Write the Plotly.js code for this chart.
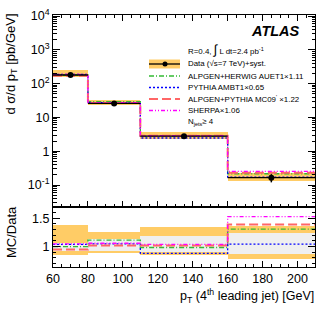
<!DOCTYPE html>
<html>
<head>
<meta charset="utf-8">
<script src="https://cdn.plot.ly/plotly-3.0.1.min.js"></script>
<style>html,body{margin:0;padding:0;background:#fff;}#chart{width:332px;height:319px;}</style>
</head>
<body>
<div id="chart"></div>
<script>
// ---- data ----
const binEdges = [60, 80, 110, 160, 210];
const dataXsec = [180, 26, 2.8, 0.165];          // pb/GeV
const dataStat = [3, 0.6, 0.12, 0.045];
const systLo = [0.86, 0.89, 0.845, 0.78];         // relative (MC/Data panel orange band)
const systHi = [1.39, 1.265, 1.35, 1.36];
const innerLo = [0.92, 0.92, 0.91, 0.865];        // light grey inner band
const innerHi = [1.07, 1.14, 1.18, 1.235];
const ratioHerwig = [1.00, 1.115, 0.985, 1.31];   // ALPGEN+HERWIG AUET1 x1.11
const ratioPythia = [1.04, 1.05, 0.88, 1.045];    // PYTHIA AMBT1 x0.65
const ratioAlpPy = [0.95, 1.02, 1.02, 1.39];      // ALPGEN+PYTHIA MC09' x1.22
const ratioSherpa = [1.05, 1.06, 1.04, 1.53];     // SHERPA x1.06
const xTicks = [60, 80, 100, 120, 140, 160, 180, 200];
const logTickVals = [0.1, 1, 10, 100, 1000, 10000];
const logTickText = ['10<sup>-1</sup>', '1', '10', '10<sup>2</sup>', '10<sup>3</sup>', '10<sup>4</sup>'];

const FONT = 'Liberation Sans, Arial, sans-serif';
const ORANGE = '#ffcc66';
const GREY = '#efefef';
const styles = [
  {r: ratioHerwig, color: '#33bb33', dash: '5px,2px,1px,2px', width: 1.4},
  {r: ratioPythia, color: '#0000ff', dash: '2px,2px', width: 1.3},
  {r: ratioAlpPy, color: '#ff6666', dash: '9px,4px', width: 2},
  {r: ratioSherpa, color: '#ff00ff', dash: '4px,2px,1px,2px,1px,2px', width: 1.3}
];

const centers = [], widths = [];
for (let i = 0; i < dataXsec.length; i++) {
  centers.push((binEdges[i] + binEdges[i + 1]) / 2);
  widths.push(binEdges[i + 1] - binEdges[i]);
}
function stepY(vals) { return vals.concat([vals[vals.length - 1]]); }

const traces = [];
// ---- top panel ----
traces.push({type: 'bar', x: centers, width: widths,
  base: dataXsec.map((v, i) => v * systLo[i]),
  y: dataXsec.map((v, i) => v * (systHi[i] - systLo[i])),
  marker: {color: ORANGE, line: {width: 0}}, xaxis: 'x2', yaxis: 'y2', hoverinfo: 'skip'});
styles.forEach(s => {
  traces.push({type: 'scatter', mode: 'lines', x: binEdges,
    y: stepY(dataXsec.map((v, i) => v * s.r[i])), line: {shape: 'hv', color: s.color, dash: s.dash, width: s.width},
    xaxis: 'x2', yaxis: 'y2'});
});
const dlx = [], dly = [];
for (let i = 0; i < dataXsec.length; i++) {
  dlx.push(binEdges[i], binEdges[i + 1], null);
  dly.push(dataXsec[i], dataXsec[i], null);
}
traces.push({type: 'scatter', mode: 'lines', x: dlx, y: dly, line: {color: '#000', width: 1.3},
  xaxis: 'x2', yaxis: 'y2'});
traces.push({type: 'scatter', mode: 'markers', x: centers, y: dataXsec,
  error_y: {type: 'data', array: dataStat, color: '#000', thickness: 1.5, width: 0},
  marker: {color: '#000', size: 6}, xaxis: 'x2', yaxis: 'y2'});

// ---- ratio panel ----
traces.push({type: 'bar', x: centers, width: widths, base: systLo,
  y: systHi.map((v, i) => v - systLo[i]), marker: {color: ORANGE, line: {width: 0}},
  xaxis: 'x', yaxis: 'y', hoverinfo: 'skip'});
traces.push({type: 'bar', x: centers, width: widths, base: innerLo,
  y: innerHi.map((v, i) => v - innerLo[i]), marker: {color: GREY, line: {width: 0}},
  xaxis: 'x', yaxis: 'y', hoverinfo: 'skip'});
styles.forEach(s => {
  traces.push({type: 'scatter', mode: 'lines', x: binEdges, y: stepY(s.r),
    line: {shape: 'hv', color: s.color, dash: s.dash, width: s.width}, xaxis: 'x', yaxis: 'y'});
});

// ---- pixel helpers for legend placement ----
const L = 53, R = 315, T = 15, B = 267;
const px = v => (v - L) / (R - L);
const py = v => (B - v) / (B - T);

const minorLog = [];
for (let e = -2; e <= 3; e++) for (let m = 2; m <= 9; m++) minorLog.push(m * Math.pow(10, e));

const shapes = [];
const annotations = [];
const legX0 = 149, legX1 = 180, txtX = 186;
const LF = 7.9;
const rowY = [64, 76, 87.5, 99, 110.5];
// data sample
shapes.push({type: 'rect', xref: 'paper', yref: 'paper', x0: px(legX0), x1: px(legX1), y0: py(68.5), y1: py(59.5),
  fillcolor: ORANGE, line: {width: 0}});
shapes.push({type: 'line', xref: 'paper', yref: 'paper', x0: px(legX0), x1: px(legX1), y0: py(rowY[0]), y1: py(rowY[0]),
  line: {color: '#000', width: 1.3}});
shapes.push({type: 'circle', xref: 'paper', yref: 'paper', x0: px(162.5), x1: px(167.5), y0: py(61.5), y1: py(66.5),
  fillcolor: '#000', line: {width: 0}});
styles.forEach((s, k) => {
  shapes.push({type: 'line', xref: 'paper', yref: 'paper', x0: px(legX0), x1: px(legX1), y0: py(rowY[k + 1]), y1: py(rowY[k + 1]),
    line: {color: s.color, dash: s.dash, width: s.width}});
});
const legTexts = ['Data (√s=7 TeV)+syst.', 'ALPGEN+HERWIG AUET1×1.11', 'PYTHIA AMBT1×0.65',
  "ALPGEN+PYTHIA MC09<sup>'</sup> ×1.22", 'SHERPA×1.06'];
legTexts.forEach((t, k) => annotations.push({xref: 'paper', yref: 'paper', x: px(txtX), y: py(rowY[k]),
  xanchor: 'left', yanchor: 'middle', showarrow: false, text: t, font: {family: FONT, size: LF, color: '#000'}}));
annotations.push({xref: 'paper', yref: 'paper', x: px(txtX), y: py(121.5), xanchor: 'left', yanchor: 'middle',
  showarrow: false, text: 'N<sub>jets</sub>≥ 4', font: {family: FONT, size: LF, color: '#000'}});
annotations.push({xref: 'paper', yref: 'paper', x: px(txtX), y: py(50), xanchor: 'left', yanchor: 'middle',
  showarrow: false, text: 'R=0.4, <span style="font-size:13px">∫</span> L dt=2.4 pb<sup>-1</sup>', font: {family: FONT, size: LF, color: '#000'}});
annotations.push({xref: 'paper', yref: 'paper', x: px(249), y: py(31), xanchor: 'left', yanchor: 'middle',
  showarrow: false, text: '<b><i>ATLAS</i></b>', font: {family: FONT, size: 14.5, color: '#000'}});
// axis titles
annotations.push({xref: 'paper', yref: 'paper', x: px(316), y: py(296), xanchor: 'right', yanchor: 'middle',
  showarrow: false, text: 'p<sub>T</sub> (4<sup>th</sup> leading jet) [GeV]', font: {family: FONT, size: 12.5, color: '#000'}});
annotations.push({xref: 'paper', yref: 'paper', x: px(11), y: py(12), xanchor: 'center', yanchor: 'top', textangle: -90,
  showarrow: false, text: 'd σ/d p<sub>T</sub> [pb/GeV]', font: {family: FONT, size: 13, color: '#000'}});
annotations.push({xref: 'paper', yref: 'paper', x: px(11), y: py(232), xanchor: 'center', yanchor: 'middle', textangle: -90,
  showarrow: false, text: 'MC/Data', font: {family: FONT, size: 13, color: '#000'}});

const axCommon = {showline: true, linecolor: '#000', linewidth: 1, zeroline: false, showgrid: false,
  ticks: 'inside', tickcolor: '#000', tickfont: {family: FONT, size: 12.5, color: '#000'}};

const layout = {
  width: 332, height: 319, margin: {l: L, r: 332 - R, t: T, b: 319 - B},
  paper_bgcolor: '#fff', plot_bgcolor: '#fff', showlegend: false, barmode: 'overlay', bargap: 0,
  font: {family: FONT, color: '#000'},
  xaxis: Object.assign({}, axCommon, {domain: [0, 1], anchor: 'y', range: [60, 210], tickmode: 'array', tickvals: xTicks,
    ticklen: 6, mirror: true, minor: {dtick: 5, tick0: 60, ticks: 'inside', ticklen: 3, tickcolor: '#000', showgrid: false}}),
  yaxis: Object.assign({}, axCommon, {domain: [0, 0.238], anchor: 'x', range: [0.64, 1.70], tickmode: 'array', tickvals: [1, 1.5],
    ticktext: ['1', '1.5'], ticklen: 7, mirror: 'allticks', minor: {dtick: 0.1, tick0: 0, ticks: 'inside', ticklen: 3, tickcolor: '#000', showgrid: false}}),
  xaxis2: Object.assign({}, axCommon, {domain: [0, 1], anchor: 'y2', matches: 'x', range: [60, 210], tickmode: 'array', tickvals: xTicks,
    showticklabels: false, ticklen: 6, mirror: 'allticks', minor: {dtick: 5, tick0: 60, ticks: 'inside', ticklen: 3, tickcolor: '#000', showgrid: false}}),
  yaxis2: Object.assign({}, axCommon, {domain: [0.238, 1], anchor: 'x2', type: 'log', range: [-1.65, 4.03], tickmode: 'array',
    tickvals: logTickVals, ticktext: logTickText, ticklen: 7, mirror: 'allticks',
    minor: {tickmode: 'array', tickvals: minorLog, ticks: 'inside', ticklen: 3.5, tickcolor: '#000', showgrid: false}}),
  shapes: shapes, annotations: annotations
};

Plotly.newPlot('chart', traces, layout, {staticPlot: true, displayModeBar: false});
</script>
</body>
</html>
